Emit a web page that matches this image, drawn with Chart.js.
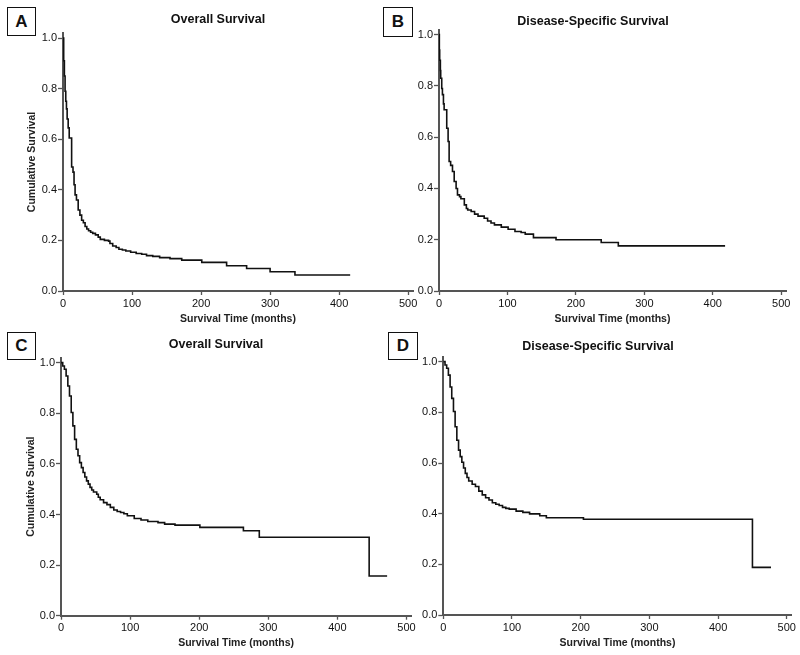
<!DOCTYPE html>
<html>
<head>
<meta charset="utf-8">
<title>Survival curves</title>
<script src="https://cdn.jsdelivr.net/npm/chart.js@4.4.1/dist/chart.umd.min.js"></script>
<style>
  body { margin: 0; background: #fff; }
  #page { position: relative; width: 800px; height: 655px; overflow: hidden; background: #fff; }
  .panel { position: absolute; }
  .panel canvas { display: block; }
  .letter {
    position: absolute; box-sizing: border-box; border: 1.5px solid #111; background: #fff;
    font: bold 17px "Liberation Sans", Arial, sans-serif; color: #111;
    display: flex; align-items: center; justify-content: center; z-index: 2;
  }
</style>
</head>
<body>
<div id="page">
  <div class="panel" id="panelA"><canvas id="chartA"></canvas></div>
  <div class="panel" id="panelB"><canvas id="chartB"></canvas></div>
  <div class="panel" id="panelC"><canvas id="chartC"></canvas></div>
  <div class="panel" id="panelD"><canvas id="chartD"></canvas></div>
  <div class="letter" style="left:7px;top:7px;width:29px;height:29px;">A</div>
  <div class="letter" style="left:383px;top:7px;width:30px;height:30px;">B</div>
  <div class="letter" style="left:7px;top:332px;width:29px;height:28px;">C</div>
  <div class="letter" style="left:388px;top:332px;width:30px;height:28px;">D</div>
</div>
<script>
// Kaplan-Meier steps: months, survival after that time
const monthsA = [0, 1, 2, 3, 4, 5, 6, 7.5, 9, 12.5, 14.5, 16, 17.5, 19.5, 22, 24.5, 27, 29.5, 32, 34.5, 37, 40, 43, 47, 51, 54, 60, 66, 68, 72, 77, 81, 86, 91, 98, 106, 114, 121, 130, 140, 155, 172, 201, 237, 266, 300, 336, 416];
const survA = [1.0, 0.91, 0.85, 0.79, 0.75, 0.72, 0.68, 0.645, 0.605, 0.49, 0.47, 0.42, 0.38, 0.36, 0.32, 0.30, 0.28, 0.27, 0.255, 0.245, 0.238, 0.232, 0.228, 0.222, 0.213, 0.204, 0.2, 0.197, 0.188, 0.178, 0.172, 0.165, 0.162, 0.158, 0.153, 0.148, 0.145, 0.14, 0.137, 0.132, 0.128, 0.122, 0.113, 0.1, 0.089, 0.076, 0.063, 0.063];

const monthsB = [0, 0.5, 1, 2, 2.5, 4, 5, 6.5, 7.5, 11.3, 13.3, 14.8, 17, 19.7, 22.2, 25, 27, 30, 32, 37, 40, 42, 47, 52, 57, 66, 71, 76, 81, 91, 101, 111, 120, 126, 138, 171, 237, 262, 418];
const survB = [1.0, 0.94, 0.90, 0.86, 0.83, 0.79, 0.766, 0.73, 0.707, 0.635, 0.583, 0.505, 0.49, 0.466, 0.427, 0.40, 0.375, 0.368, 0.36, 0.336, 0.322, 0.316, 0.31, 0.30, 0.292, 0.284, 0.273, 0.265, 0.258, 0.249, 0.241, 0.232, 0.228, 0.222, 0.208, 0.2, 0.189, 0.176, 0.176];

const monthsC = [0, 2.5, 4.9, 7.4, 9.9, 12.3, 14.8, 17.2, 19.7, 22.2, 24.6, 27, 29.5, 32, 34.5, 37, 39.5, 42, 44.5, 47, 51.7, 54, 56.7, 61.6, 66.5, 71.4, 76.4, 81.3, 86.2, 91, 96, 106, 115.8, 125.6, 140.4, 150, 165, 201, 264, 287, 446, 472];
const survC = [1.0, 0.987, 0.974, 0.947, 0.908, 0.868, 0.803, 0.75, 0.697, 0.658, 0.632, 0.605, 0.585, 0.566, 0.548, 0.533, 0.52, 0.507, 0.497, 0.489, 0.48, 0.468, 0.458, 0.447, 0.439, 0.428, 0.418, 0.412, 0.408, 0.403, 0.395, 0.384, 0.378, 0.372, 0.368, 0.362, 0.358, 0.349, 0.336, 0.31, 0.157, 0.157];

const monthsD = [0, 2.5, 4.9, 7.4, 9.9, 12.3, 14.8, 17.2, 19.7, 22.2, 24.6, 27, 29.5, 32, 34.5, 37, 42, 46.8, 51.7, 56.7, 61.6, 66.5, 71.4, 76.4, 81.3, 86.2, 91, 96, 106, 115.8, 125.6, 140.4, 150, 204, 450, 477];
const survD = [1.0, 0.987, 0.974, 0.947, 0.90, 0.855, 0.803, 0.743, 0.69, 0.651, 0.625, 0.603, 0.58, 0.559, 0.543, 0.529, 0.516, 0.507, 0.489, 0.474, 0.463, 0.454, 0.443, 0.437, 0.432, 0.425, 0.421, 0.418, 0.41, 0.405, 0.399, 0.392, 0.384, 0.378, 0.188, 0.188];

const xTicks = [0, 100, 200, 300, 400, 500];
const yTicks = [0, 0.2, 0.4, 0.6, 0.8, 1.0];
const xAxisTitle = "Survival Time (months)";
const yAxisTitle = "Cumulative Survival";

const FONT = '"Liberation Sans", Arial, sans-serif';
const AXIS = "#555";

// panel placement (px) tuned to the reference
const panels = [
    { id: "A", title: "Overall Survival", months: monthsA, surv: survA, yTitle: true,
      left: 0, top: 0, w: 430, h: 330, padLeft: 23, padRight: 17, yWidth: 40, xHeight: 39,
      titleTop: 12.5, titleBottom: 5.5, xTitleBottom: 4.7, yTitlePad: 3.2 },
    { id: "B", title: "Disease-Specific Survival", months: monthsB, surv: survB, yTitle: false,
      left: 380, top: 0, w: 420, h: 330, padLeft: 20, padRight: 14, yWidth: 39, xHeight: 39,
      titleTop: 14.5, titleBottom: 0, xTitleBottom: 4.7, yTitlePad: 0 },
    { id: "C", title: "Overall Survival", months: monthsC, surv: survC, yTitle: true,
      left: 0, top: 325, w: 430, h: 330, padLeft: 20.7, padRight: 18.7, yWidth: 40.3, xHeight: 39.3,
      titleTop: 12, titleBottom: 5.6, xTitleBottom: 5.4, yTitlePad: 4 },
    { id: "D", title: "Disease-Specific Survival", months: monthsD, surv: survD, yTitle: false,
      left: 380, top: 325, w: 420, h: 330, padLeft: 24.4, padRight: 8.4, yWidth: 38.9, xHeight: 40,
      titleTop: 14.2, titleBottom: 2.4, xTitleBottom: 5.4, yTitlePad: 0 }
];

function makePanel(p) {
    const holder = document.getElementById("panel" + p.id);
    holder.style.left = p.left + "px";
    holder.style.top = p.top + "px";
    const canvas = document.getElementById("chart" + p.id);
    canvas.width = p.w;
    canvas.height = p.h;

    const points = p.months.map((m, i) => ({ x: m, y: p.surv[i] }));

    new Chart(canvas, {
        type: "line",
        data: {
            datasets: [{
                data: points,
                borderColor: "#111",
                borderWidth: 1.6,
                pointRadius: 0,
                stepped: true,
                fill: false,
            }],
        },
        options: {
            responsive: false,
            animation: false,
            events: [],
            layout: { padding: { left: p.padLeft, right: p.padRight, top: 0, bottom: 0 } },
            plugins: {
                legend: { display: false },
                tooltip: { enabled: false },
                title: {
                    display: true,
                    text: p.title,
                    color: "#111",
                    font: { family: FONT, size: 12.5, weight: "bold", lineHeight: 1.2 },
                    padding: { top: p.titleTop, bottom: p.titleBottom },
                },
            },
            scales: {
                x: {
                    type: "linear",
                    min: 0,
                    max: 507,
                    afterBuildTicks: (s) => { s.ticks = xTicks.map((v) => ({ value: v })); },
                    afterFit: (s) => { s.height = p.xHeight; },
                    grid: { display: true, drawOnChartArea: false, drawTicks: true, tickLength: 4, tickColor: AXIS, tickWidth: 1.3 },
                    border: { display: true, color: AXIS, width: 2 },
                    ticks: { color: "#111", font: { family: FONT, size: 11 }, padding: 2, maxRotation: 0, autoSkip: false },
                    title: {
                        display: true,
                        text: xAxisTitle,
                        color: "#222",
                        font: { family: FONT, size: 10.5, weight: "bold", lineHeight: 1.2 },
                        padding: { top: 0, bottom: p.xTitleBottom },
                    },
                },
                y: {
                    type: "linear",
                    min: 0,
                    max: 1.02,
                    afterBuildTicks: (s) => { s.ticks = yTicks.map((v) => ({ value: v })); },
                    afterFit: (s) => { s.width = p.yWidth; },
                    grid: { display: true, drawOnChartArea: false, drawTicks: true, tickLength: 5, tickColor: AXIS, tickWidth: 1.3 },
                    border: { display: true, color: AXIS, width: 2 },
                    ticks: {
                        color: "#111",
                        font: { family: FONT, size: 11 },
                        padding: 1,
                        autoSkip: false,
                        callback: (v) => Number(v).toFixed(1),
                    },
                    title: {
                        display: p.yTitle,
                        text: yAxisTitle,
                        color: "#222",
                        font: { family: FONT, size: 10.5, weight: "bold", lineHeight: 1.2 },
                        padding: { top: p.yTitlePad, bottom: 0 },
                    },
                },
            },
        },
    });
}

panels.forEach(makePanel);
</script>
</body>
</html>
